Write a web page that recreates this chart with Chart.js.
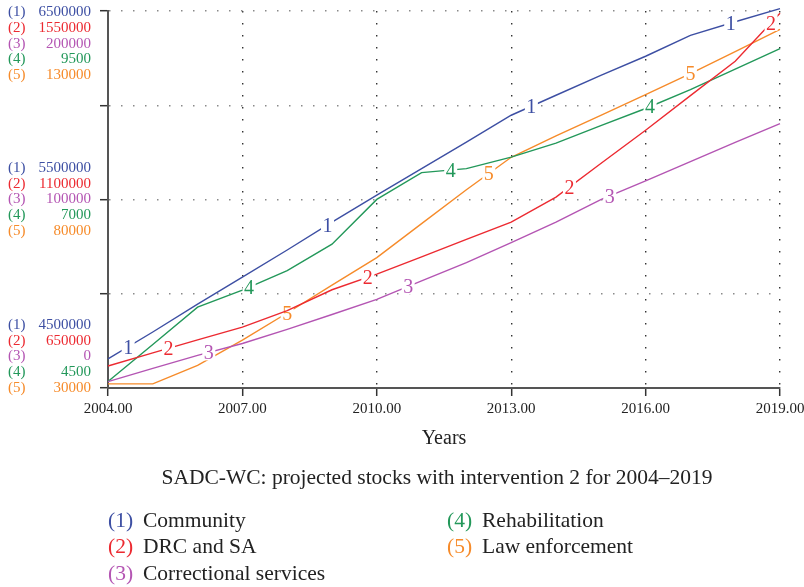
<!DOCTYPE html>
<html>
<head>
<meta charset="utf-8">
<script src="https://cdn.jsdelivr.net/npm/chart.js@4.4.1/dist/chart.umd.min.js"></script>
<style>
  html, body { margin: 0; padding: 0; background: #fff; }
  #wrap { width: 804px; height: 587px; position: relative; }
</style>
</head>
<body>
<div id="wrap"><canvas id="c" width="804" height="587"></canvas></div>
<script>
// Projected stocks, SADC-WC, intervention 2
const years = [2004, 2005, 2006, 2007, 2008, 2009, 2010, 2011, 2012, 2013, 2014, 2015, 2016, 2017, 2018, 2019];
const community      = [4654000, 4797000, 4945000, 5088000, 5232000, 5380000, 5523000, 5664000, 5804000, 5947000, 6053000, 6159000, 6260000, 6371000, 6443000, 6513000];
const drcAndSa       = [702500, 733700, 765000, 795500, 834900, 884500, 921900, 963200, 1004700, 1046000, 1105600, 1186000, 1265400, 1348000, 1430000, 1544500];
const correctional   = [3400, 10400, 17300, 23600, 31100, 39000, 47000, 56800, 66500, 77100, 88000, 99900, 109900, 120100, 130300, 140300];
const rehabilitation = [4586, 5076, 5573, 5797, 6056, 6407, 7001, 7356, 7409, 7561, 7747, 7979, 8207, 8458, 8730, 9002];
const lawEnforcement = [31100, 31100, 36000, 42700, 49900, 57300, 64600, 73600, 82600, 91200, 96900, 102300, 107800, 113400, 119200, 125100];

const seriesNames = ['Community', 'DRC and SA', 'Correctional services', 'Rehabilitation', 'Law enforcement'];
const seriesValues = [community, drcAndSa, correctional, rehabilitation, lawEnforcement];

// each series has its own vertical scale
const axisMin = [4500000, 650000, 0, 4500, 30000];
const axisMax = [6500000, 1550000, 200000, 9500, 130000];
const axisMid = [5500000, 1100000, 100000, 7000, 80000];

// times at which the series number is written on its line
const markerYears = [
  [2004.45, 2008.9, 2013.45, 2017.9],
  [2005.35, 2009.8, 2014.3, 2018.8],
  [2006.25, 2010.7, 2015.2],
  [2007.15, 2011.65, 2016.1],
  [2008.0, 2012.5, 2017.0]
];

const xTicks = { min: 2004, max: 2019, step: 3 };

const colors = ['#3d4fa3', '#ec2a31', '#b455b3', '#23985a', '#f68b2a'];
const SERIF = '"Liberation Serif", "DejaVu Serif", serif';
const PLOT_LEFT = 108;
const PLOT_BOTTOM = 388;
const X_AXIS_H = 67;

const datasets = seriesValues.map((vals, i) => ({
  label: seriesNames[i],
  data: years.map((yr, j) => ({ x: yr, y: vals[j] })),
  yAxisID: 'y' + (i + 1),
  borderColor: colors[i],
  borderWidth: 1.4,
  pointRadius: 0,
  pointHoverRadius: 0,
  tension: 0,
  fill: false,
  clip: false
}));

const yScales = {};
for (let i = 0; i < 5; i++) {
  const id = 'y' + (i + 1);
  if (i === 0) {
    yScales[id] = {
      type: 'linear', position: 'left',
      min: axisMin[i], max: axisMax[i],
      ticks: { display: false, stepSize: (axisMax[i] - axisMin[i]) / 4 },
      grid: { color: '#8a8a8a', lineWidth: 1.4, tickLength: 8, tickColor: '#333', tickWidth: 1.5, tickBorderDash: [] },
      border: { display: true, color: '#555', width: 2, dash: [1.5, 10.5] },
      afterFit: s => { s.width = PLOT_LEFT; }
    };
  } else {
    yScales[id] = { type: 'linear', display: false, min: axisMin[i], max: axisMax[i] };
  }
}

function valueAt(vals, t) {
  for (let j = 0; j < years.length - 1; j++) {
    if (t >= years[j] && t <= years[j + 1]) {
      const f = (t - years[j]) / (years[j + 1] - years[j]);
      return vals[j] + f * (vals[j + 1] - vals[j]);
    }
  }
  return vals[vals.length - 1];
}

// numbers written along each line, with a small break in the line behind them
const lineNumbers = {
  id: 'lineNumbers',
  afterDatasetDraw(chart, args) {
    const i = args.index;
    const ctx = chart.ctx;
    const xs = chart.scales.x;
    const ys = chart.scales['y' + (i + 1)];
    ctx.save();
    ctx.font = '20px ' + SERIF;
    ctx.textAlign = 'center';
    ctx.textBaseline = 'alphabetic';
    const txt = String(i + 1);
    const w = ctx.measureText(txt).width;
    markerYears[i].forEach(t => {
      const px = xs.getPixelForValue(t);
      const py = ys.getPixelForValue(valueAt(seriesValues[i], t));
      ctx.fillStyle = '#fff';
      ctx.fillRect(px - w / 2 - 1.5, py - 8, w + 3, 16);
      ctx.fillStyle = colors[i];
      ctx.fillText(txt, px, py + 6.8);
    });
    ctx.restore();
  }
};

// stacked scale labels at the bottom, middle and top of the vertical axis
const stackedAxisLabels = {
  id: 'stackedAxisLabels',
  afterDraw(chart) {
    const ctx = chart.ctx;
    const ys = chart.scales.y1;
    const gap = 15.8;
    const levels = [
      { vals: axisMin, anchor: ys.getPixelForValue(axisMin[0]), first: -4 },
      { vals: axisMid, anchor: ys.getPixelForValue(axisMid[0]), first: -2 },
      { vals: axisMax, anchor: ys.getPixelForValue(axisMax[0]) + 1, first: 0 }
    ];
    ctx.save();
    ctx.font = '15px ' + SERIF;
    ctx.textBaseline = 'middle';
    levels.forEach(lv => {
      for (let i = 0; i < 5; i++) {
        const y = lv.anchor + (lv.first + i) * gap;
        ctx.fillStyle = colors[i];
        ctx.textAlign = 'left';
        ctx.fillText('(' + (i + 1) + ')', 8, y);
        ctx.textAlign = 'right';
        ctx.fillText(String(lv.vals[i]), 91, y);
      }
    });
    ctx.restore();
  }
};

// caption and key below the plot
const captionAndKey = {
  id: 'captionAndKey',
  afterDraw(chart) {
    const ctx = chart.ctx;
    ctx.save();
    ctx.textBaseline = 'middle';
    ctx.fillStyle = '#222';
    ctx.font = '21.5px ' + SERIF;
    ctx.textAlign = 'center';
    ctx.fillText('SADC-WC: projected stocks with intervention 2 for 2004\u20132019', 437, 478);
    const cols = [108, 447];
    const rows = [521, 547, 574];
    ctx.textAlign = 'left';
    seriesNames.forEach((name, i) => {
      const col = i < 3 ? 0 : 1;
      const row = i < 3 ? i : i - 3;
      ctx.fillStyle = colors[i];
      ctx.fillText('(' + (i + 1) + ')', cols[col], rows[row]);
      ctx.fillStyle = '#222';
      ctx.fillText(name, cols[col] + 35, rows[row]);
    });
    ctx.restore();
  }
};

new Chart(document.getElementById('c'), {
  type: 'line',
  data: { datasets },
  options: {
    responsive: false,
    animation: false,
    devicePixelRatio: 1,
    events: [],
    layout: { padding: { top: 11, right: 24, left: 0, bottom: 587 - PLOT_BOTTOM - X_AXIS_H } },
    plugins: { legend: { display: false }, tooltip: { enabled: false }, title: { display: false } },
    scales: Object.assign({
      x: {
        type: 'linear', position: 'bottom',
        min: xTicks.min, max: xTicks.max,
        ticks: { stepSize: xTicks.step, callback: v => Number(v).toFixed(2), color: '#222', font: { family: SERIF, size: 15 }, padding: 4, maxRotation: 0, autoSkip: false },
        grid: { color: '#333', lineWidth: 1.4, tickLength: 8, tickColor: '#333', tickWidth: 1.5, tickBorderDash: [] },
        border: { display: true, color: '#555', width: 2, dash: [1.5, 10.5] },
        title: { display: true, text: 'Years', color: '#222', font: { family: SERIF, size: 20 }, padding: { top: 4, bottom: 4 } },
        afterFit: s => { s.paddingLeft = 0; s.paddingRight = 0; s.height = X_AXIS_H; }
      }
    }, yScales)
  },
  plugins: [lineNumbers, stackedAxisLabels, captionAndKey]
});
</script>
</body>
</html>
